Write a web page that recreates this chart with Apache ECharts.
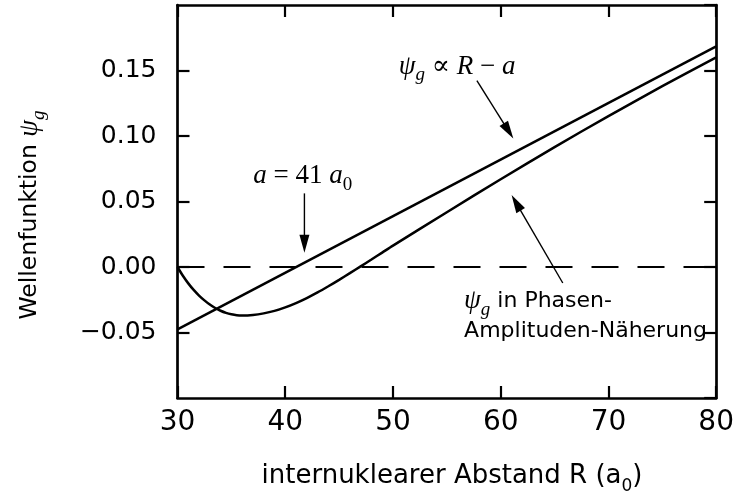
<!DOCTYPE html>
<html><head><meta charset="utf-8">
<script src="https://cdn.jsdelivr.net/npm/echarts@6/dist/echarts.min.js"></script>
<style>html,body{margin:0;padding:0;background:#fff}#c{width:737px;height:501px}</style>
</head><body><div id="c"></div>
<script>
// ---- data ----
const xTicks = [30, 40, 50, 60, 70, 80];
const yTicks = [-0.10, -0.05, 0.00, 0.05, 0.10, 0.15, 0.20];
const linearR = [30, 80];
const linearPsi = [-0.0476, 0.1684];
const phaseR = [30, 30.5, 31, 31.5, 32, 32.5, 33, 33.5, 34, 34.5, 35, 35.5, 36, 37, 38, 39, 40, 41, 42, 43, 44, 45, 46, 47, 48, 49, 50, 55, 60, 65, 70, 75, 80];
const phasePsi = [0, -0.0067, -0.0125, -0.0175, -0.0218, -0.0255, -0.0287, -0.0313, -0.0334, -0.0350, -0.0361, -0.0368, -0.0370, -0.0366, -0.0354, -0.0335, -0.0308, -0.0275, -0.0237, -0.0194, -0.0147, -0.0098, -0.0047, 0.0005, 0.0057, 0.0110, 0.0163, 0.0418, 0.0670, 0.0915, 0.1152, 0.1380, 0.1600];
const zeroR = [30, 80];
const zeroPsi = [0, 0];

const SANS = "'DejaVu Sans', sans-serif";
const SERIF = "'Liberation Serif', 'DejaVu Serif', serif";

const chart = echarts.init(document.getElementById('c'), null, {renderer: 'canvas'});
const pairs = (xs, ys) => xs.map((x, i) => [x, ys[i]]);
const fmtY = v => v.toFixed(2).replace('-', '\u2212');

const axisLine = {show: true, onZero: false, lineStyle: {color: '#000', width: 2.7}};
const tickIn = {show: true, inside: true, length: 12, lineStyle: {color: '#000', width: 2.2}};

chart.setOption({
  animation: false,
  grid: {left: 177.5, right: 15, top: 5, bottom: 103},
  xAxis: [
    {type: 'value', min: xTicks[0], max: xTicks[xTicks.length - 1], interval: 10, position: 'bottom',
     axisLine, axisTick: tickIn, splitLine: {show: false},
     axisLabel: {color: '#000', fontFamily: SANS, fontSize: 28, margin: 11}},
    {type: 'value', min: xTicks[0], max: xTicks[xTicks.length - 1], interval: 10, position: 'top',
     axisLine, axisTick: tickIn, splitLine: {show: false}, axisLabel: {show: false}}
  ],
  yAxis: [
    {type: 'value', min: yTicks[0], max: yTicks[yTicks.length - 1], interval: 0.05, position: 'left',
     axisLine, axisTick: tickIn, splitLine: {show: false},
     axisLabel: {color: '#000', fontFamily: SANS, fontSize: 25, margin: 21, showMinLabel: false, showMaxLabel: false, formatter: fmtY}},
    {type: 'value', min: yTicks[0], max: yTicks[yTicks.length - 1], interval: 0.05, position: 'right',
     axisLine, axisTick: tickIn, splitLine: {show: false}, axisLabel: {show: false}}
  ],
  series: [
    {type: 'line', data: pairs(zeroR, zeroPsi), showSymbol: false, z: 1, lineStyle: {color: '#000', width: 1.8, type: [27, 19]}},
    {type: 'line', data: pairs(linearR, linearPsi), showSymbol: false, lineStyle: {color: '#000', width: 2.5}},
    {type: 'line', data: pairs(phaseR, phasePsi), showSymbol: false, smooth: 0.3, lineStyle: {color: '#000', width: 2.5}}
  ]
});

// annotations anchored in data coordinates
const P = p => chart.convertToPixel({gridIndex: 0}, p);
function arrow(a, b) {
  const p0 = P(a), p1 = P(b);
  const dx = p1[0] - p0[0], dy = p1[1] - p0[1], L = Math.hypot(dx, dy);
  const ux = dx / L, uy = dy / L, hl = 18, hw = 5;
  const bx = p1[0] - ux * hl, by = p1[1] - uy * hl;
  return [
    {type: 'line', shape: {x1: p0[0], y1: p0[1], x2: bx + ux * 2, y2: by + uy * 2}, style: {stroke: '#000', lineWidth: 1.4}},
    {type: 'polygon', shape: {points: [[p1[0], p1[1]], [bx - uy * hw, by + ux * hw], [bx + uy * hw, by - ux * hw]]}, style: {fill: '#000'}}
  ];
}
const mathRich = {
  i: {fontFamily: SERIF, fontStyle: 'italic', fontSize: 27, lineHeight: 36, verticalAlign: 'middle', color: '#000'},
  r: {fontFamily: SERIF, fontSize: 27, lineHeight: 36, verticalAlign: 'middle', color: '#000'},
  si: {fontFamily: SERIF, fontStyle: 'italic', fontSize: 19, lineHeight: 36, verticalAlign: 'bottom', color: '#000'},
  sr: {fontFamily: SERIF, fontSize: 19, lineHeight: 36, verticalAlign: 'bottom', color: '#000'},
  t: {fontFamily: SANS, fontSize: 22, lineHeight: 34, verticalAlign: 'middle', color: '#000'},
  tx: {fontFamily: SANS, fontSize: 26, lineHeight: 38, verticalAlign: 'middle', color: '#000'},
  txs: {fontFamily: SANS, fontSize: 17, lineHeight: 38, verticalAlign: 'bottom', color: '#000'},
  ty: {fontFamily: SANS, fontSize: 23.5, lineHeight: 36, verticalAlign: 'middle', color: '#000'}
};
function txt(p, text, align) {
  return {type: 'text', x: p[0], y: p[1],
    style: {text, rich: mathRich, align: align || 'center', verticalAlign: 'middle'}};
}

const els = [].concat(
  arrow([41.78, 0.0562], [41.78, 0.0108]),
  arrow([57.79, 0.1423], [61.17, 0.0980]),
  arrow([65.76, -0.0122], [61.01, 0.0549]),
  [
    txt(P([41.62, 0.0694]), '{i|a}{r| = 41 }{i|a}{sr|0}', 'center'),
    txt(P([55.96, 0.1530]), '{i|ψ}{si|g}{r| ∝ }{i|R}{r| − }{i|a}', 'center'),
    txt(P([56.6, -0.0261]), '{i|ψ}{si|g}{t| in Phasen-}', 'left'),
    txt(P([56.6, -0.0489]), '{t|Amplituden-Näherung}', 'left'),
    txt([452, 476], '{tx|internuklearer Abstand R (a}{txs|0}{tx|)}', 'center'),
    {type: 'text', x: 30, y: 215, rotation: Math.PI / 2,
     style: {text: '{ty|Wellenfunktion }{i|ψ}{si|g}', rich: mathRich, align: 'center', verticalAlign: 'middle'}}
  ]
);
chart.setOption({graphic: els});
</script></body></html>
